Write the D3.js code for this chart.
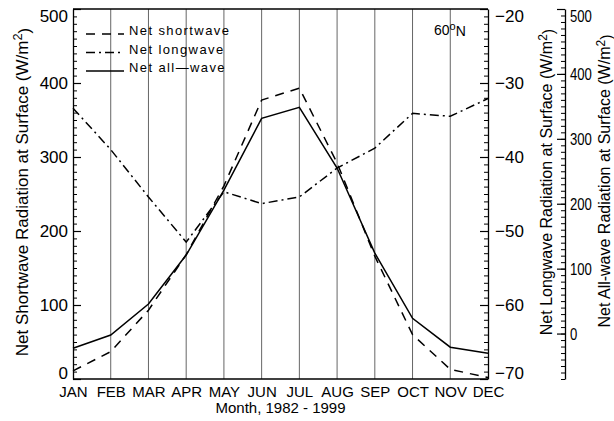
<!DOCTYPE html>
<html>
<head>
<meta charset="utf-8">
<script src="https://cdn.jsdelivr.net/npm/d3@7"></script>
<style>
  body { margin: 0; background: #fff; }
  text { font-family: "Liberation Sans", Arial, sans-serif; fill: #000; }
</style>
</head>
<body>
<div id="chart"></div>
<script>
// monthly means, 60N, 1982-1999
const months = ['JAN', 'FEB', 'MAR', 'APR', 'MAY', 'JUN', 'JUL', 'AUG', 'SEP', 'OCT', 'NOV', 'DEC'];
const shortwave = [11, 37, 93, 168, 261, 377, 393, 292, 166, 60, 13, 2];
const longwave = [-33.4, -39.0, -45.4, -51.5, -44.7, -46.3, -45.4, -41.5, -38.8, -34.1, -34.5, -32.1];
const allwave = [-22.7, -2.2, 45.5, 121, 221, 331.6, 348.6, 255, 124, 23.5, -21, -30.4];
const swTicks = [0, 100, 200, 300, 400, 500];
const lwTicks = [-70, -60, -50, -40, -30, -20];
const awTicks = [0, 100, 200, 300, 400, 500];

const W = 614, H = 421;
const plotL = 73, plotR = 488, plotT = 9, plotB = 379, awX = 565;

const svg = d3.select("#chart").append("svg")
    .attr("width", W)
    .attr("height", H);

const x = d3.scalePoint().domain(months).range([plotL, plotR]);
const ySW = d3.scaleLinear().domain([0, 500]).range([plotB, plotT]);
const yLW = d3.scaleLinear().domain([-70, -20]).range([plotB, plotT]);
const yAW = d3.scaleLinear().domain([-70, 500]).range([plotB, plotT]);

// month grid lines
svg.append("g")
    .selectAll("line")
    .data(months.slice(1, -1))
    .join("line")
    .attr("x1", d => x(d)).attr("x2", d => x(d))
    .attr("y1", plotT).attr("y2", plotB)
    .attr("stroke", "#666")
    .attr("stroke-width", 1);

// frame top / bottom
svg.append("line").attr("x1", plotL).attr("x2", plotR).attr("y1", plotT).attr("y2", plotT)
    .attr("stroke", "#000").attr("stroke-width", 1.3);
svg.append("line").attr("x1", plotL).attr("x2", plotR).attr("y1", plotB).attr("y2", plotB)
    .attr("stroke", "#000").attr("stroke-width", 1.3);

function styleAxis(g, lo, hi) {
    g.select(".domain").attr("stroke", "#000").attr("stroke-width", 1.3);
    g.selectAll(".tick line").attr("stroke", "#000").attr("stroke-width", 1.2);
    g.selectAll(".tick text")
        .attr("font-size", 17)
        .attr("dy", d => d === hi ? "0.72em" : d === lo ? "-0.05em" : "0.32em");
}

function minor(axisFn, scale, step, xPos, size) {
    const lo = scale.domain()[0], hi = scale.domain()[1];
    svg.append("g")
        .attr("transform", `translate(${xPos},0)`)
        .call(axisFn(scale).tickValues(d3.range(lo, hi + step / 2, step)).tickSize(size).tickSizeOuter(0).tickFormat(""))
        .call(g => g.select(".domain").remove())
        .call(g => g.selectAll(".tick line").attr("stroke", "#000").attr("stroke-width", 1));
}

// left: shortwave
minor(d3.axisLeft, ySW, 10, plotL, -4);
svg.append("g")
    .attr("transform", `translate(${plotL},0)`)
    .call(d3.axisLeft(ySW).tickValues(swTicks).tickSize(-8).tickSizeOuter(0).tickPadding(5))
    .call(g => styleAxis(g, 0, 500));

// right: longwave
minor(d3.axisRight, yLW, 1, plotR, -4);
svg.append("g")
    .attr("transform", `translate(${plotR},0)`)
    .call(d3.axisRight(yLW).tickValues(lwTicks).tickSize(-8).tickSizeOuter(0).tickPadding(7))
    .call(g => styleAxis(g, -70, -20));

// far right: all-wave (labels squeezed narrower, as in the original)
minor(d3.axisRight, yAW, 10, awX, -4);
svg.append("g")
    .attr("transform", `translate(${awX},0)`)
    .call(d3.axisRight(yAW).tickValues(awTicks).tickSize(-8).tickSizeOuter(0).tickPadding(5))
    .call(g => styleAxis(g, -999, 500))
    .call(g => g.selectAll(".tick text")
        .attr("textLength", d => String(d).length * 7.3)
        .attr("lengthAdjust", "spacingAndGlyphs"));

// bottom month labels
svg.append("g")
    .attr("transform", `translate(0,${plotB})`)
    .call(d3.axisBottom(x).tickSize(0).tickPadding(7))
    .call(g => g.select(".domain").remove())
    .call(g => g.selectAll(".tick text").attr("font-size", 15).attr("dy", "0.75em"));

svg.append("text")
    .attr("x", (plotL + plotR) / 2).attr("y", 413)
    .attr("text-anchor", "middle")
    .attr("font-size", 15)
    .text("Month, 1982 - 1999");

// axis titles
function title(cx, cy, label, size) {
    const t = svg.append("text")
        .attr("transform", `translate(${cx},${cy}) rotate(-90)`)
        .attr("text-anchor", "middle")
        .attr("font-size", size);
    t.append("tspan").text(label + " (W/m");
    t.append("tspan").attr("dy", "-0.45em").attr("font-size", size * 0.75).text("2");
    t.append("tspan").attr("dy", "0.45em").text(")");
}
title(28, 192, "Net Shortwave Radiation at Surface", 17);
title(552, 182, "Net Longwave Radiation at Surface", 16);
title(610, 181, "Net All-wave Radiation at Surface", 16);

// series
const series = [
    { name: "Net shortwave", values: shortwave, y: ySW, dash: "9,7" },
    { name: "Net longwave", values: longwave, y: yLW, dash: "9,4,2,4" },
    { name: "Net all\u2014wave", values: allwave, y: yAW, dash: null }
];

series.forEach(s => {
    const line = d3.line()
        .x((d, i) => x(months[i]))
        .y(d => s.y(d));
    svg.append("path")
        .datum(s.values)
        .attr("fill", "none")
        .attr("stroke", "#000")
        .attr("stroke-width", 1.5)
        .attr("stroke-dasharray", s.dash)
        .attr("d", line);
});

// legend
const legend = svg.append("g");
series.forEach((s, i) => {
    const ly = 34 + i * 18.5;
    legend.append("line")
        .attr("x1", 86).attr("x2", 124)
        .attr("y1", ly).attr("y2", ly)
        .attr("stroke", "#000")
        .attr("stroke-width", 1.5)
        .attr("stroke-dasharray", s.dash);
    legend.append("text")
        .attr("x", 129).attr("y", ly + 1)
        .attr("font-size", 13)
        .attr("letter-spacing", 1.4)
        .text(s.name);
});

// latitude label
const lat = svg.append("text").attr("x", 434).attr("y", 35).attr("font-size", 14);
lat.append("tspan").text("60");
lat.append("tspan").attr("dy", "-0.45em").attr("font-size", 11).text("o");
lat.append("tspan").attr("dy", "0.45em").text("N");
</script>
</body>
</html>
